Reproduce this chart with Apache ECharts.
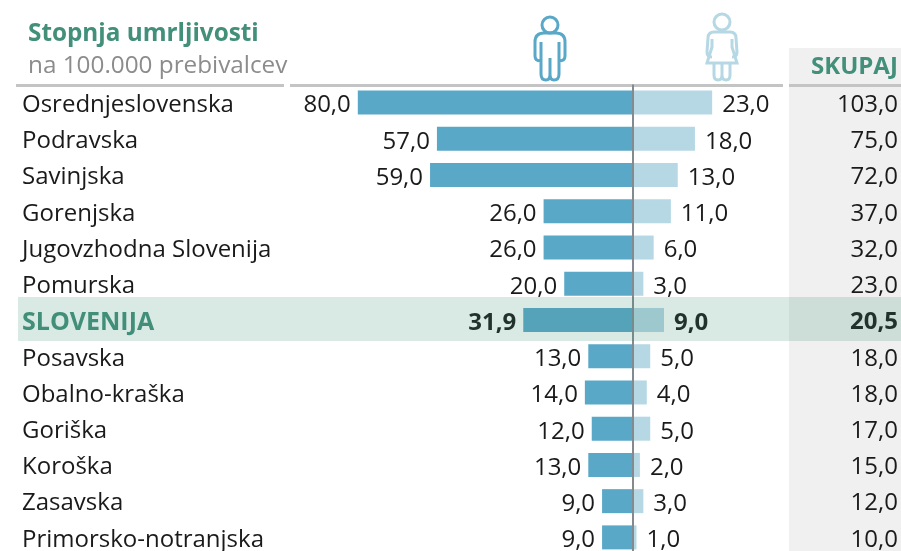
<!DOCTYPE html>
<html><head><meta charset="utf-8">
<style>html,body{margin:0;padding:0;background:#fff}#c{width:901px;height:551px}</style>
<script src="https://cdn.jsdelivr.net/npm/echarts@6/dist/echarts.min.js"></script>
</head><body><div id="c"></div>
<script>
const categories = ['Osrednjeslovenska','Podravska','Savinjska','Gorenjska','Jugovzhodna Slovenija','Pomurska','SLOVENIJA','Posavska','Obalno-kraška','Goriška','Koroška','Zasavska','Primorsko-notranjska'];
const men = [80,57,59,26,26,20,31.9,13,14,12,13,9,9];
const women = [23,18,13,11,6,3,9,5,4,5,2,3,1];
const totals = [103,75,72,37,32,23,20.5,18,18,17,15,12,10];
const highlight = 'SLOVENIJA';
const fmt = v => Math.abs(v).toFixed(1).replace('.', ',');
const FONT = '"Open Sans"';
const INK = '#1a1a1a', GREEN = '#428f7a', MEN = '#5aa8c8', WOMEN = '#b5d8e4';
const isHi = i => categories[i] === highlight;
const barItems = (arr, sign, pos) => arr.map((v, i) => ({
  value: sign * v,
  label: isHi(i) ? {fontWeight: 'bold', position: pos} : undefined
}));
echarts.graphic.registerShape('manIcon', echarts.graphic.extendPath('M541 42V74Q541 80 546 80Q550 80 550 74V58V74Q550 80 554 80Q559 80 559 74V42M541 61Q535 61 535 56V42Q535 33 544 33H556Q565 33 565 42V56Q565 61 559 61'));
echarts.graphic.registerShape('womanIcon', echarts.graphic.extendPath('M712 39V47L707 63H737L732 47V39M712 57Q707 57 707 52L708 38Q708 32 714 32H730Q736 32 736 38L737 52Q737 57 732 57M714 63V75Q714 80 718 80Q722 80 722 75V63V75Q722 80 726 80Q730 80 730 75V63'));
const chart = echarts.init(document.getElementById('c'), null, {renderer: 'canvas'});
const rect = (x, y, w, h, fill, z) => ({type: 'rect', shape: {x, y, width: w, height: h}, style: {fill}, z, silent: true});
const richPad = [5, 0, 0, 0];
chart.setOption({
  animation: false,
  backgroundColor: '#fff',
  textStyle: {fontFamily: FONT},
  title: {
    left: 23, top: 17, itemGap: 8,
    text: 'Stopnja umrljivosti',
    textStyle: {fontFamily: FONT, fontSize: 24.3, fontWeight: 'bold', color: GREEN},
    subtext: 'na 100.000 prebivalcev',
    subtextStyle: {fontFamily: FONT, fontSize: 24.3, color: '#8c8c8c'}
  },
  grid: {left: 289, width: 495.4, top: 84.5, height: 471, containLabel: false, outerBoundsMode: 'none'},
  xAxis: {type: 'value', min: -100, max: 44, show: false},
  yAxis: [
    {type: 'category', inverse: true, position: 'left',
     data: categories,
     axisLine: {show: false}, axisTick: {show: false},
     axisLabel: {margin: 267, align: 'left', fontFamily: FONT, fontSize: 24, color: INK,
       formatter: (v, i) => `{${isHi(i) ? 'hi' : 'n'}|${v}}`,
       rich: {
         n: {padding: richPad, fontFamily: FONT, fontSize: 24, color: INK},
         hi: {padding: richPad, fontFamily: FONT, fontSize: 25, fontWeight: 'bold', color: GREEN}
       }}},
    {type: 'category', inverse: true, position: 'right',
     data: totals.map(fmt),
     axisLine: {show: false}, axisTick: {show: false},
     axisLabel: {margin: 113.6, align: 'right', fontFamily: FONT, fontSize: 24, color: INK,
       formatter: (v, i) => `{${isHi(i) ? 'hi' : 'n'}|${v}}`,
       rich: {
         n: {padding: richPad, fontFamily: FONT, fontSize: 24, color: INK},
         hi: {padding: richPad, fontFamily: FONT, fontSize: 24, fontWeight: 'bold', color: INK}
       }}}
  ],
  series: [
    {name: 'Moški', type: 'bar', barWidth: 24, barGap: '-100%', z: 2,
     itemStyle: {color: MEN},
     label: {show: true, position: 'left', distance: 7, offset: [0, 3], fontFamily: FONT, fontSize: 24, color: INK, formatter: p => fmt(p.value)},
     data: barItems(men, -1, 'left')},
    {name: 'Ženske', type: 'bar', barWidth: 24, barGap: '-100%', z: 2,
     itemStyle: {color: WOMEN},
     label: {show: true, position: 'right', distance: 10, offset: [0, 3], fontFamily: FONT, fontSize: 24, color: INK, formatter: p => fmt(p.value)},
     data: barItems(women, 1, 'right'),
     markLine: {silent: true, symbol: 'none', label: {show: false}, animation: false, z: 5,
       lineStyle: {color: '#858a8f', width: 2, type: 'solid'}, data: [{xAxis: 0}]}}
  ],
  graphic: [
    rect(789, 48, 112, 503, '#f0f0f0', -1),
    {type: 'text', x: 811, y: 55, z: 3, silent: true, style: {text: 'SKUPAJ', font: 'bold 24px "Open Sans"', fill: GREEN}},
    rect(16, 84, 268, 3, '#c4c4c4', 1),
    rect(290, 84, 493, 3, '#c4c4c4', 1),
    rect(789, 84, 112, 3, '#c4c4c4', 1),
    rect(18, 297, 883, 44, 'rgba(66,143,122,0.2)', 100),
    {type: 'circle', shape: {cx: 550, cy: 25, r: 8}, style: {fill: 'none', stroke: MEN, lineWidth: 3}, silent: true},
    {type: 'manIcon', style: {fill: 'none', stroke: MEN, lineWidth: 3}, silent: true},
    {type: 'circle', shape: {cx: 722, cy: 22, r: 8}, style: {fill: 'none', stroke: WOMEN, lineWidth: 3}, silent: true},
    {type: 'womanIcon', style: {fill: 'none', stroke: WOMEN, lineWidth: 3}, silent: true}
  ]
});
</script></body></html>
